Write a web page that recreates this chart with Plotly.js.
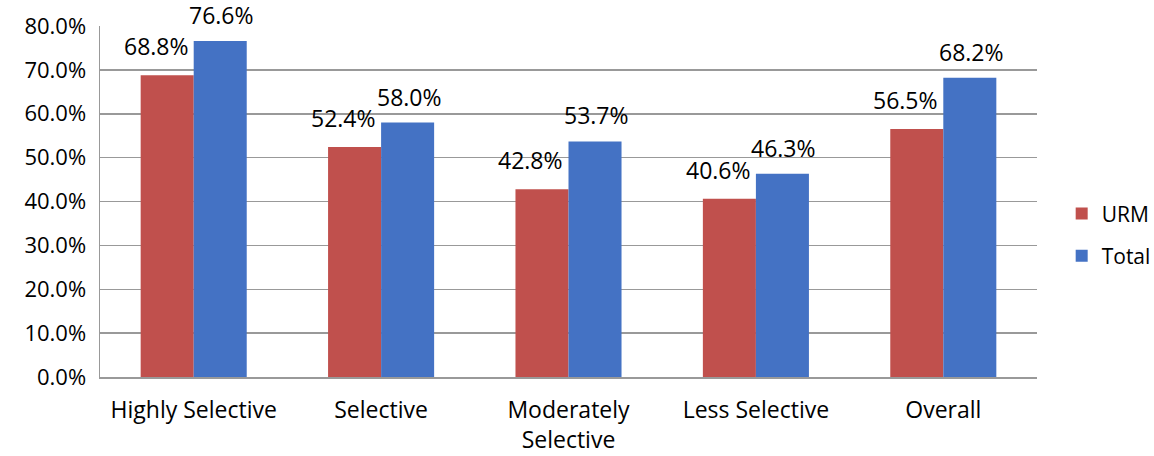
<!DOCTYPE html>
<html>
<head>
<meta charset="utf-8">
<script src="https://cdn.plot.ly/plotly-3.0.1.min.js"></script>
<style>html,body{margin:0;padding:0;background:#fff;}#chart{width:1154px;height:456px;}</style>
</head>
<body>
<div id="chart"></div>
<script>
var categories = ["Highly Selective", "Selective", "Moderately<br>Selective", "Less Selective", "Overall"];
var urmValues = [68.8, 52.4, 42.8, 40.6, 56.5];
var totalValues = [76.6, 58.0, 53.7, 46.3, 68.2];
var seriesNames = ["URM", "Total"];
var yTicks = [0, 10, 20, 30, 40, 50, 60, 70, 80];

var fontFam = "Open Sans, Noto Sans, sans-serif";
function lbl(v){ return v.toFixed(1) + "%"; }

var W = 1154, H = 456, ML = 100, MR = 117;
var bargap = 0.434;
var plotW = W - ML - MR;
var barW = plotW / categories.length * (1 - bargap) / 2;

var traces = [
  {type:"bar", name:seriesNames[0], x:categories, y:urmValues, legendgroup:"a",
   marker:{color:"#C0504D"}, hoverinfo:"none"},
  {type:"bar", name:seriesNames[1], x:categories, y:totalValues, legendgroup:"b",
   marker:{color:"#4472C4"}, hoverinfo:"none"}
];

var annotations = [];
function addLabels(vals, xs, ys){
  vals.forEach(function(v, i){
    annotations.push({x:categories[i], y:v, xref:"x", yref:"y", text:lbl(v), showarrow:false,
      xanchor:"center", yanchor:"bottom", xshift:xs, yshift:ys,
      font:{size:23, color:"#000", family:fontFam}});
  });
}
addLabels(urmValues, -barW/2 - 11, 11);
addLabels(totalValues, barW/2 + 1.5, 8);

var layout = {
  width:W, height:H,
  margin:{l:ML, r:MR, t:26, b:79},
  paper_bgcolor:"#fff", plot_bgcolor:"#fff",
  font:{family:fontFam, size:22, color:"#000"},
  barmode:"group", bargap:bargap, bargroupgap:0,
  showlegend:true,
  annotations:annotations,
  legend:{xref:"container", yref:"container", x:0.92, y:0.485, xanchor:"left", yanchor:"middle",
          tracegroupgap:12, font:{size:21, family:fontFam}, itemwidth:30, traceorder:"grouped"},
  xaxis:{type:"category", showline:true, linecolor:"#999", linewidth:1.5,
         ticks:"", tickfont:{size:23}, showgrid:false, automargin:false, ticklabelstandoff:12},
  yaxis:{range:[0,80], tickvals:yTicks, ticktext:yTicks.map(function(v){return v.toFixed(1)+"%";}),
         showgrid:true, gridcolor:"#999", gridwidth:1.5, showline:true, linecolor:"#999", linewidth:1.5,
         zeroline:false, ticks:"", tickfont:{size:22}, automargin:false, ticklabelstandoff:8}
};

Plotly.newPlot("chart", traces, layout, {displayModeBar:false, staticPlot:true});
</script>
</body>
</html>
